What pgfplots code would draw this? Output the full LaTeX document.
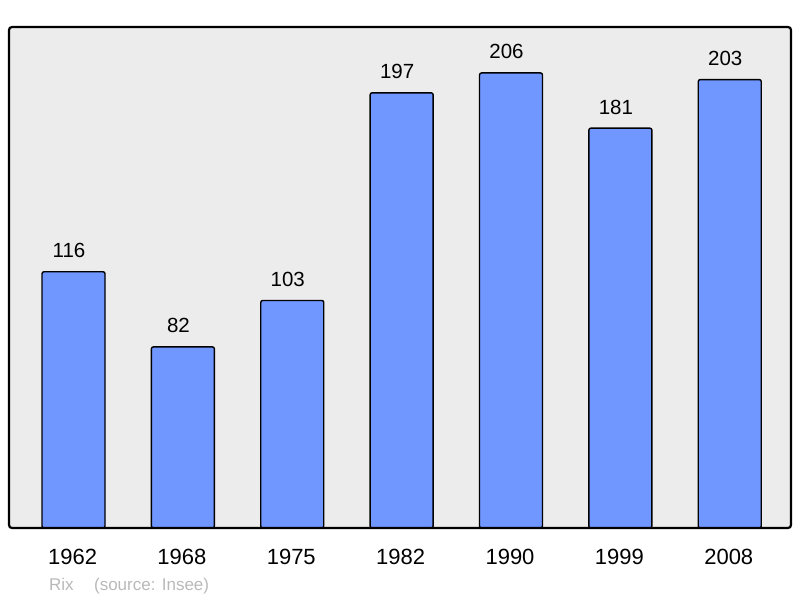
\documentclass[border=0pt]{standalone}
\usepackage{pgfplots}
\pgfplotsset{compat=1.18}
\usepackage{fontspec}
\setmainfont{Liberation Sans}
\definecolor{barblue}{RGB}{112,150,255}
\definecolor{bggrey}{RGB}{236,236,236}
\definecolor{srcgrey}{RGB}{185,185,185}
\begin{document}
\begin{tikzpicture}
\path[use as bounding box] (0,0) rectangle (800pt,598pt);
\begin{axis}[
  at={(9pt,70pt)}, anchor=south west,
  scale only axis, width=782pt, height=501pt,
  xmin=-0.59, xmax=6.56, ymin=0, ymax=226.8,
  axis line style={draw=none},
  hide y axis,
  xtick=data,
  xticklabels={1962,1968,1975,1982,1990,1999,2008},
  major tick length=0pt,
  xticklabel style={font=\fontsize{22}{26}\selectfont, anchor=base, yshift=-36pt, xshift=-1pt, inner sep=0pt},
  ybar, bar width=63pt,
  nodes near coords,
  /pgf/number format/assume math mode=true,
  every node near coord/.append style={font=\fontsize{20.5}{24}\selectfont, anchor=base, yshift=14pt, xshift=-4.5pt, inner sep=0pt, black},
  clip=false,
]
\fill[bggrey, rounded corners=3pt] (rel axis cs:0,0) rectangle (rel axis cs:1,1);
\addplot[fill=barblue, draw=black, line width=1.4pt, rounded corners=2pt] coordinates {
 (0,116) (1,82) (2,103) (3,197) (4,206) (5,181) (6,203)};
\draw[black, line width=2.2pt, rounded corners=3pt] (rel axis cs:0,0) rectangle (rel axis cs:1,1);
\end{axis}
\node[anchor=base west, inner sep=0pt, text=srcgrey, font=\fontsize{17}{20}\selectfont] at (49pt,8pt) {Rix\hspace{1.2em}(source: Insee)};
\end{tikzpicture}
\end{document}
